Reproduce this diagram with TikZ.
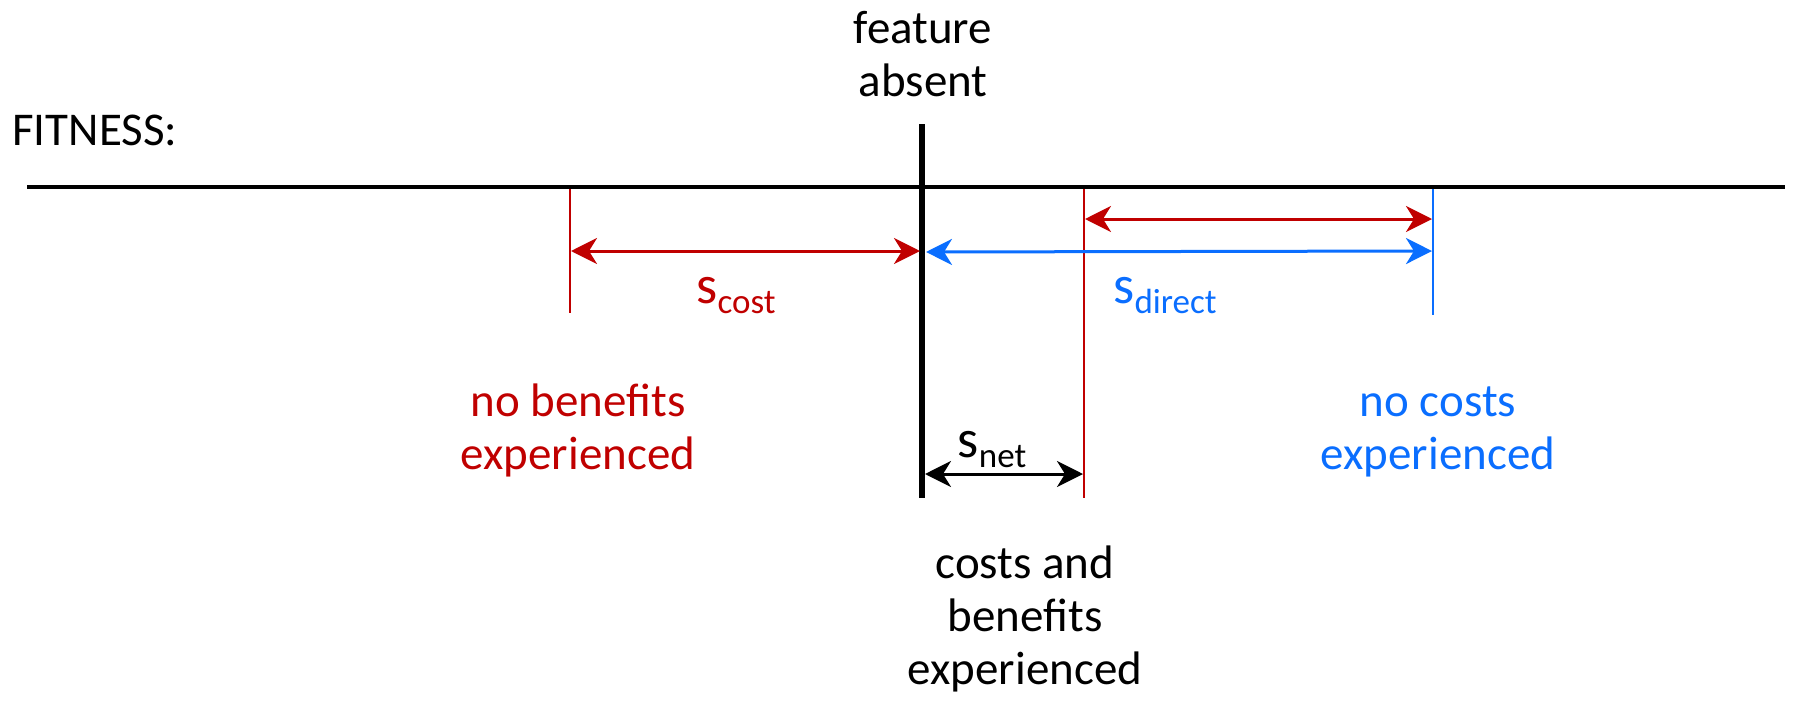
\documentclass[tikz,border=0pt]{standalone}
\usepackage{fontspec}
\setmainfont{Carlito}
\usetikzlibrary{arrows.meta}
\definecolor{costred}{RGB}{192,0,0}
\definecolor{directblue}{RGB}{10,110,255}
% stacked lines whose baseline is the first line's baseline
\newcommand{\linesof}[1]{\begin{tabular}[t]{@{}c@{}}#1\end{tabular}}
% symbol with a lowered index
\newcommand{\sym}[2]{{\fontsize{27}{27}\selectfont #1}\raisebox{-5.3pt}{\fontsize{17.5}{17.5}\selectfont #2}}
\begin{document}
\begin{tikzpicture}[x=0.5pt,y=-0.5pt,
  lbl/.style={font=\fontsize{23.5}{26.5}\selectfont, inner sep=0pt, anchor=base},
  axisline/.style={line width=2.3pt},
  guide/.style={line width=0.8pt},
  span/.style={line width=1.5pt, {Stealth[length=13pt,width=13pt,inset=4pt]}-{Stealth[length=13pt,width=13pt,inset=4pt]}}]
\useasboundingbox (0,0) rectangle (1796,707);

% fitness axis and reference position
\coordinate (axL) at (27,187);
\coordinate (axR) at (1785,187);
\coordinate (refTop) at (922,124);
\coordinate (refBot) at (922,498);
\draw[axisline] (axL) -- (axR);
\draw[line width=2.6pt] (refTop) -- (refBot);

% marker lines
\coordinate (costTop) at (570,189);
\coordinate (costBot) at (570,313);
\coordinate (netTop) at (1084,189);
\coordinate (netBot) at (1084,498);
\coordinate (dirTop) at (1433,189);
\coordinate (dirBot) at (1433,315);
\draw[guide, costred] (costTop) -- (costBot);
\draw[guide, costred] (netTop) -- (netBot);
\draw[guide, directblue] (dirTop) -- (dirBot);

% spans
\coordinate (c1) at (571,251);
\coordinate (c2) at (920,251);
\draw[span, costred] (c1) -- (c2);

\coordinate (t1) at (1085,219);
\coordinate (t2) at (1432,219);
\draw[span, costred] (t1) -- (t2);

\coordinate (d1) at (926,252);
\coordinate (d2) at (1432,251);
\draw[span, directblue] (d1) -- (d2);

\coordinate (n1) at (925,474);
\coordinate (n2) at (1083,474);
\draw[span, black] (n1) -- (n2);

% labels
\node[lbl, anchor=base west] (fit) at (12,145) {FITNESS:};
\node[lbl] (absent) at (923,43) {\linesof{feature\\absent}};
\node[lbl, costred] (scost) at (736,303) {\sym{s}{cost}};
\node[lbl, directblue] (sdirect) at (1165,303) {\sym{s}{direct}};
\node[lbl] (snet) at (992,457) {\sym{s}{net}};
\node[lbl, costred] (nobenefit) at (578,416) {\linesof{no benefits\\experienced}};
\node[lbl, directblue] (nocost) at (1438,416) {\linesof{no costs\\experienced}};
\node[lbl] (both) at (1025,578) {\linesof{costs and\\benefits\\experienced}};
\end{tikzpicture}
\end{document}
